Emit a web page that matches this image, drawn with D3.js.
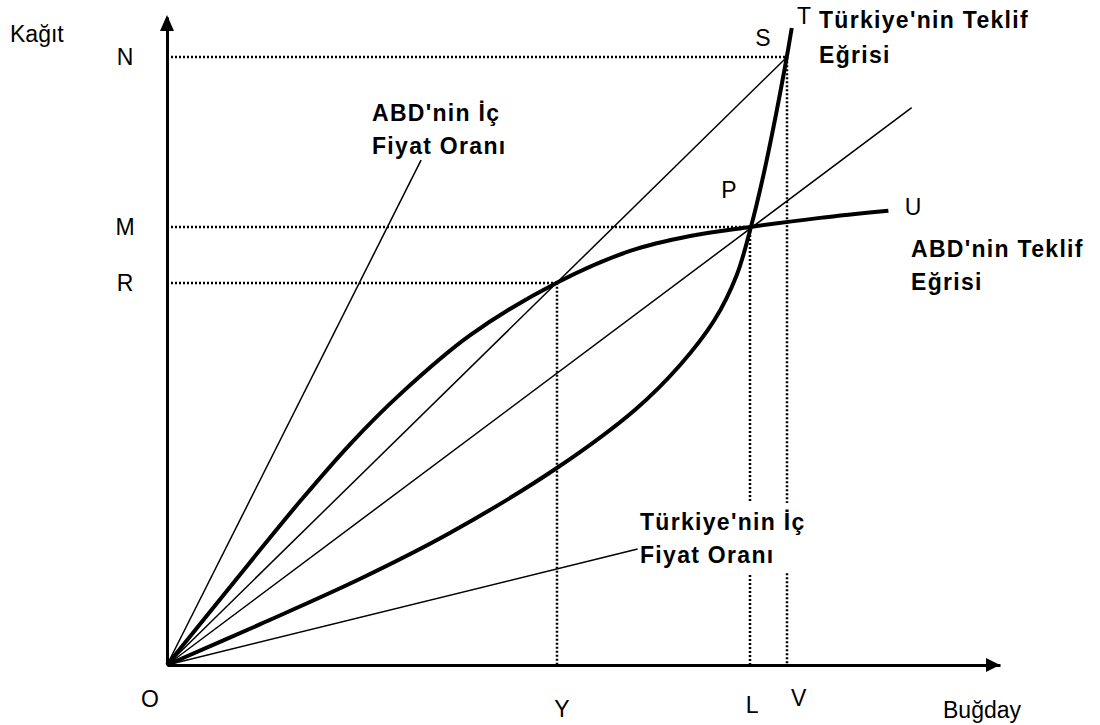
<!DOCTYPE html>
<html>
<head>
<meta charset="utf-8">
<script src="https://cdn.jsdelivr.net/npm/d3@7"></script>
<style>
body{margin:0;background:#fff;}
text{font-family:"Liberation Sans",Arial,sans-serif;fill:#000;}
</style>
</head>
<body>
<script>
// reference levels on the paper (Kağıt) axis and the wheat (Buğday) axis
const yRefLabels=["N","M","R"];
const yRefValues=[93.8,67.6,59.0];
const xRefLabels=["V","L","Y"];
const xRefValues=[74.4,70.0,46.8];

// offer curves
const abdOffer=[[0,0],[10,15.9],[16,25.3],[22,34.1],[28,41.8],[36.4,50.9],[46.8,59.0],
                [55.6,63.9],[62.8,66.2],[70,67.6],[78.4,69.0],[86.6,70.1]];
const turkeyOffer=[[0,0],[11.2,6.3],[23.2,13.3],[34,20.4],[46.8,30.4],[56.2,39.4],[61.6,46.3],
                   [65.7,53.2],[68.4,60.2],[70.1,67.6],[71.6,75.6],[73.1,84.9],[74.4,93.8],[75,98.3]];

// price-ratio rays from the origin (end points)
const rayNames=["abdIc","tradeS","tradeP","turkeyIc"];
const rayEnds=[[30.5,77.9],[74.4,93.8],[89.4,86.0],[56.5,17.9]];

const w=1100;
const h=725;

const xScale=d3.scaleLinear().domain([0,100]).range([167,1000]);
const yScale=d3.scaleLinear().domain([0,100]).range([665,17]);

const svg=d3.select("body").append("svg").attr("width",w).attr("height",h);

// dotted guide lines
const dotted=svg.append("g")
  .attr("stroke","#000").attr("stroke-width",2.5).attr("stroke-dasharray","2,2")
  .attr("fill","none");
yRefValues.forEach((v,i)=>{
  dotted.append("line")
    .attr("x1",xScale(0)).attr("x2",xScale(xRefValues[i]))
    .attr("y1",Math.round(yScale(v))).attr("y2",Math.round(yScale(v)));
  dotted.append("line")
    .attr("x1",Math.round(xScale(xRefValues[i]))).attr("x2",Math.round(xScale(xRefValues[i])))
    .attr("y1",yScale(v)).attr("y2",yScale(0));
});

// rays
svg.append("g").selectAll("line")
  .data(rayEnds)
  .enter()
  .append("line")
  .attr("class",(d,i)=>rayNames[i])
  .attr("x1",xScale(0)).attr("y1",yScale(0))
  .attr("x2",d=>xScale(d[0])).attr("y2",d=>yScale(d[1]))
  .attr("stroke","#000").attr("stroke-width",1.5);

// offer curves
const line=d3.line().x(d=>xScale(d[0])).y(d=>yScale(d[1])).curve(d3.curveCatmullRom.alpha(0.5));
[abdOffer,turkeyOffer].forEach(c=>{
  svg.append("path").attr("d",line(c))
    .attr("fill","none").attr("stroke","#000").attr("stroke-width",4);
});

// axes without ticks
svg.append("g").attr("transform",`translate(0,${yScale(0)})`)
  .call(d3.axisBottom(xScale).tickValues([]).tickSizeOuter(0));
svg.append("g").attr("transform",`translate(${xScale(0)},0)`)
  .call(d3.axisLeft(yScale).tickValues([]).tickSizeOuter(0));
svg.selectAll(".domain").attr("stroke","#000").attr("stroke-width",3);

const xe=xScale(100), ye=yScale(100), ox=xScale(0), oy=yScale(0);
svg.append("path").attr("d",`M${xe},${oy}L${xe-14},${oy-7}L${xe-14},${oy+7}Z`).attr("fill","#000");
svg.append("path").attr("d",`M${ox},${ye-2}L${ox-7},${ye+14}L${ox+7},${ye+14}Z`).attr("fill","#000");

// labels
function label(t,px,py,anchor,bold){
  const el=svg.append("text").text(t).attr("x",px).attr("y",py)
    .attr("text-anchor",anchor||"start")
    .style("font-size",bold?"23px":"23px");
  if(bold) el.style("font-weight","bold").style("letter-spacing","1.3px");
  return el;
}
label("Kağıt",10,42);
label("Buğday",943,718);
label("O",150,707,"middle");

yRefLabels.forEach((t,i)=>label(t,125,yScale(yRefValues[i])+8,"middle"));
const xNudge={V:[12,41],L:[2,48],Y:[5,52]};
xRefLabels.forEach((t,i)=>label(t,xScale(xRefValues[i])+xNudge[t][0],yScale(0)+xNudge[t][1],"middle"));

label("S",763,46,"middle");
label("T",804,24,"middle");
label("P",729,198,"middle");
label("U",913,215,"middle");

label("Türkiye'nin Teklif",819,28,"start",true);
label("Eğrisi",819,63,"start",true);
label("ABD'nin Teklif",911,257,"start",true);
label("Eğrisi",911,290,"start",true);
label("ABD'nin İç",372,121,"start",true);
label("Fiyat Oranı",372,154,"start",true);

// label that breaks the L and V guide lines
const tg=svg.append("g");
const bg=tg.append("rect").attr("fill","#fff");
tg.append("text").text("Türkiye'nin İç").attr("x",640).attr("y",530)
  .style("font-size","23px").style("font-weight","bold").style("letter-spacing","1.3px");
tg.append("text").text("Fiyat Oranı").attr("x",640).attr("y",563)
  .style("font-size","23px").style("font-weight","bold").style("letter-spacing","1.3px");
const bb=tg.node().getBBox();
bg.attr("x",bb.x+2).attr("y",bb.y-6).attr("width",bb.width).attr("height",bb.height+11);
</script>
</body>
</html>
